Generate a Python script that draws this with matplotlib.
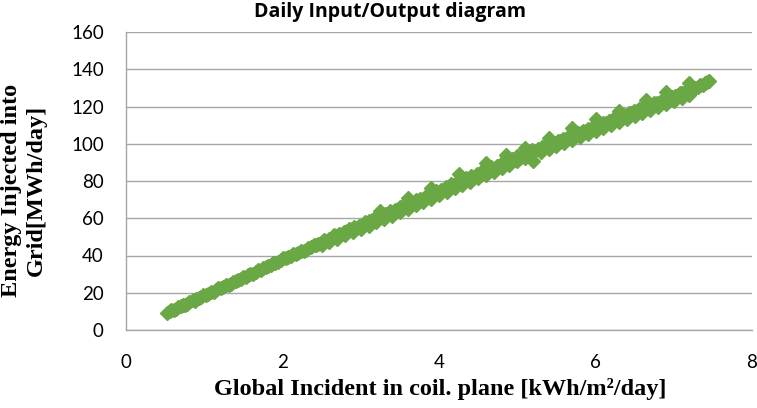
import numpy as np
import matplotlib
matplotlib.use("Agg")
import matplotlib.pyplot as plt

# napromieniowanie [kWh/m2/dzien] i energia do sieci [MWh/dzien]
x_glowne = [0.53, 0.58, 0.64, 0.70, 0.75, 0.81, 0.88, 0.93, 0.99, 1.05, 1.12, 1.18, 1.24, 1.31, 1.37,
            1.43, 1.50, 1.56, 1.62, 1.69, 1.75, 1.82, 1.88, 1.94, 2.01, 2.07, 2.14, 2.20, 2.27, 2.33,
            2.40, 2.46, 2.53, 2.59, 2.66, 2.72, 2.79, 2.85, 2.92, 2.98, 3.05, 3.11, 3.18, 3.24, 3.31,
            3.37, 3.44, 3.50, 3.57, 3.63, 3.70, 3.76, 3.83, 3.89, 3.96, 4.02, 4.09, 4.15, 4.22, 4.28,
            4.35, 4.41, 4.48, 4.54, 4.61, 4.67, 4.74, 4.80, 4.87, 4.93, 5.00, 5.06, 5.13, 5.19, 5.26,
            5.32, 5.39, 5.45, 5.52, 5.58, 5.65, 5.71, 5.78, 5.84, 5.91, 5.97, 6.04, 6.10, 6.17, 6.23,
            6.30, 6.36, 6.43, 6.49, 6.56, 6.62, 6.69, 6.75, 6.82, 6.88, 6.95, 7.01, 7.08, 7.14, 7.21,
            7.27, 7.34, 7.40, 7.45]
y_glowne = [9.3, 10.6, 11.4, 12.9, 13.5, 14.9, 15.8, 17.2, 18.9, 19.4, 20.6, 22.5, 23.1, 24.0, 25.8,
            26.9, 28.2, 29.6, 30.3, 32.4, 33.1, 34.6, 35.9, 36.5, 38.4, 39.1, 40.7, 41.5, 42.4, 44.2,
            45.6, 46.3, 48.4, 49.0, 50.8, 51.6, 52.5, 54.1, 55.3, 56.0, 57.8, 58.6, 60.1, 61.7, 62.3,
            63.9, 64.6, 65.9, 67.4, 68.0, 69.8, 70.5, 72.1, 73.0, 74.6, 75.4, 76.6, 78.3, 78.9, 80.4,
            81.7, 82.5, 84.0, 84.7, 86.3, 87.4, 88.2, 89.9, 90.6, 91.8, 93.2, 94.0, 95.1, 96.6, 97.3,
            98.5, 99.4, 100.6, 101.5, 102.8, 103.6, 104.9, 105.7, 107.0, 107.9, 109.2, 110.3, 111.1, 112.4, 113.5,
            114.2, 115.6, 116.5, 117.4, 118.7, 119.5, 120.6, 121.7, 122.5, 123.8, 124.6, 125.9, 127.0, 127.8, 129.1,
            130.2, 131.4, 132.6, 133.5]

# punkty pomiedzy (zageszczenie pasa)
x_srodek = [0.56, 0.61, 0.67, 0.73, 0.78, 0.85, 0.90, 0.96, 1.02, 1.08, 1.15, 1.21, 1.28, 1.34, 1.40,
            1.47, 1.53, 1.59, 1.66, 1.72, 1.79, 1.85, 1.91, 1.98, 2.04, 2.11, 2.17, 2.24, 2.30, 2.37,
            2.43, 2.50, 2.56, 2.63, 2.69, 2.76, 2.82, 2.89, 2.95, 3.02, 3.08, 3.15, 3.21, 3.28, 3.34,
            3.41, 3.47, 3.54, 3.60, 3.67, 3.73, 3.80, 3.86, 3.93, 3.99, 4.06, 4.12, 4.19, 4.25, 4.32,
            4.38, 4.45, 4.51, 4.58, 4.64, 4.71, 4.77, 4.84, 4.90, 4.97, 5.03, 5.10, 5.16, 5.23, 5.29,
            5.36, 5.42, 5.49, 5.55, 5.62, 5.68, 5.75, 5.81, 5.88, 5.94, 6.01, 6.07, 6.14, 6.20, 6.27,
            6.33, 6.40, 6.46, 6.53, 6.59, 6.66, 6.72, 6.79, 6.85, 6.92, 6.98, 7.05, 7.11, 7.18, 7.24,
            7.31, 7.37, 7.42]
y_srodek = [10.4, 11.0, 12.4, 13.6, 14.2, 15.9, 16.5, 17.8, 19.0, 20.3, 21.4, 22.4, 24.0, 24.8, 26.2,
            27.4, 28.7, 29.8, 31.2, 32.1, 33.8, 34.7, 36.1, 37.4, 38.5, 39.9, 40.6, 42.3, 43.0, 44.5,
            45.4, 47.0, 47.9, 49.5, 50.4, 51.8, 52.9, 54.2, 55.0, 56.6, 57.5, 59.0, 59.9, 61.5, 62.4,
            63.6, 64.9, 65.8, 67.2, 68.3, 69.4, 70.6, 71.9, 73.0, 74.1, 75.2, 76.5, 77.6, 78.7, 80.0,
            81.0, 82.3, 83.4, 84.6, 85.6, 86.9, 88.0, 89.1, 90.3, 91.4, 92.5, 93.6, 94.8, 95.9, 97.0,
            98.1, 99.2, 100.3, 101.4, 102.5, 103.6, 104.7, 105.8, 106.9, 108.0, 109.1, 110.2, 111.3, 112.4, 113.5,
            114.5, 115.6, 116.7, 117.8, 118.8, 119.9, 121.0, 122.1, 123.1, 124.2, 125.3, 126.4, 127.4, 128.5, 129.6,
            130.7, 131.8, 132.9]

# dolna krawedz pasa punktow
x_dol = [2.5, 2.6, 2.7, 2.8, 2.9, 3.0, 3.1, 3.2, 3.3, 3.4, 3.5, 3.6, 3.7, 3.8, 3.9, 4.0,
         4.1, 4.2, 4.3, 4.4, 4.5, 4.6, 4.7, 4.8, 4.9, 5.0, 5.1, 5.2, 5.3, 5.4, 5.5, 5.6,
         5.7, 5.8, 5.9, 6.0, 6.1, 6.2, 6.3, 6.4, 6.5, 6.6, 6.7, 6.8, 6.9, 7.0, 7.1, 7.2]
y_dol = [45.6, 47.3, 49.1, 50.9, 52.6, 54.4, 56.1, 57.9, 59.7, 61.4, 63.2, 65.0, 66.9, 68.7, 70.6, 72.5,
         74.3, 76.1, 77.9, 79.7, 81.5, 83.3, 85.1, 86.9, 88.7, 90.5, 92.2, 91.0, 95.4, 97.0, 98.6, 100.3,
         102.0, 103.6, 105.3, 107.0, 108.6, 110.2, 111.8, 113.4, 115.0, 116.6, 118.2, 119.8, 121.4, 123.0, 124.7, 126.3]

# gorna krawedz (pojedyncze wyskoki)
x_gora = [3.25, 3.60, 3.90, 4.25, 4.60, 4.85, 5.10, 5.40, 5.70, 6.00, 6.30, 6.65, 6.90, 7.20]
y_gora = [64.0, 70.8, 76.5, 83.6, 89.7, 94.2, 97.9, 103.1, 108.2, 113.1, 117.6, 123.4, 127.6, 132.4]

x_ticki = [0, 2, 4, 6, 8]
y_ticki = [0, 20, 40, 60, 80, 100, 120, 140, 160]

zielony = "#6AA745"
szary = "#A6A6A6"

fig = plt.figure(figsize=(7.57, 4.08), dpi=100)
ax = fig.add_axes([126/757, 1-330/408, (752-126)/757, (330-32)/408])

for xs, ys in [(x_dol, y_dol), (x_glowne, y_glowne), (x_srodek, y_srodek), (x_gora, y_gora)]:
    ax.plot(xs, ys, linestyle="none", marker="D", markersize=7.5,
            color=zielony, markeredgecolor=zielony, zorder=3)

ax.set_xlim(0, 8)
ax.set_ylim(0, 160)
ax.set_xticks(x_ticki)
ax.set_yticks(y_ticki)
ax.set_xticklabels([str(v) for v in x_ticki], family="Lato", fontsize=13.5)
ax.set_yticklabels([str(v) for v in y_ticki], family="Lato", fontsize=13.5)
ax.tick_params(axis="both", length=0, colors="black")
ax.tick_params(axis="y", pad=16)
ax.tick_params(axis="x", pad=17)
ax.grid(axis="y", color=szary, linewidth=1)
ax.set_axisbelow(True)
for s in ["top", "right"]:
    ax.spines[s].set_visible(False)
for s in ["left", "bottom"]:
    ax.spines[s].set_color(szary)
    ax.spines[s].set_linewidth(1)

fig.text(390/757, 1-12/408, "Daily Input/Output diagram", ha="center", va="center",
         family="Open Sans", fontweight="bold", fontsize=14)
fig.text(440/757, 1-389/408, "Global Incident in coil. plane [kWh/m\u00b2/day]", ha="center", va="center",
         family="Liberation Serif", fontweight="bold", fontsize=17.5)
fig.text(24/757, 1-190/408, "Energy Injected into\nGrid[MWh/day]", ha="center", va="center",
         rotation=90, linespacing=1.25,
         family="Liberation Serif", fontweight="bold", fontsize=17.5)

fig.savefig("out.png", dpi=100)
